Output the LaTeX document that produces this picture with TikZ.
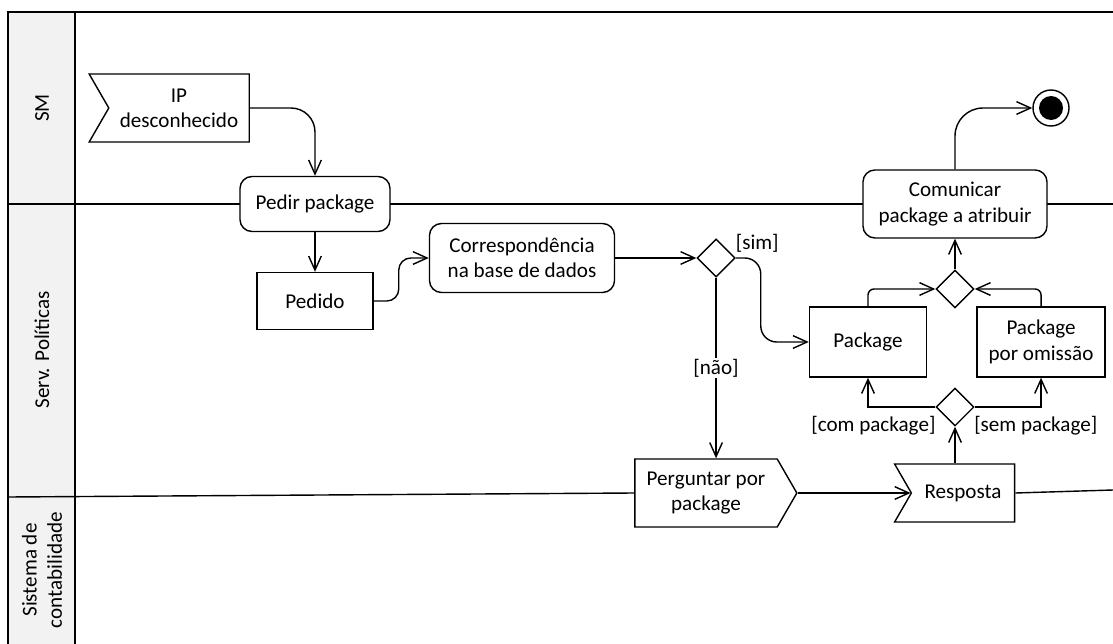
\documentclass[tikz,border=0pt]{standalone}
\usepackage{fontspec}
\setmainfont{Carlito}
\usetikzlibrary{shapes.geometric,shapes.symbols,arrows.meta}

\begin{document}
\begin{tikzpicture}[x=0.025cm, y=0.025cm, node distance=2cm, auto, line width=1pt, font=\fontsize{15}{18}\selectfont]
  % Define block styles
  \tikzstyle{action} = [rectangle, draw, fill=white, rounded corners=0.3cm, align=center]
  \tikzstyle{object} = [rectangle, draw, fill=white, align=center]
  \tikzstyle{decision} = [diamond, draw, fill=white, minimum width=0.95cm, minimum height=0.95cm, inner sep=0pt]
  \tikzstyle{receive} = [signal, signal to=nowhere, signal from=west, signal pointer angle=120, draw, fill=white, align=center]
  \tikzstyle{send} = [signal, signal to=east, signal from=nowhere, signal pointer angle=120, draw, fill=white, align=center]
  \tikzstyle{lane} = [rotate=90, align=center]
  \tikzstyle{line} = [draw, -{Straight Barb[length=10pt, width=9pt]}]

  \useasboundingbox (0,0) rectangle (1113,-644);

  % Swimlanes
  \fill [black!5] (8,-12) rectangle (75,-644);
  \draw (8,-644) -- (8,-12) -- (1113,-12);
  \draw (75,-12) -- (75,-644);
  \draw (8,-204) -- (1113,-204);
  \node [lane] (sm) at (42,-108) {SM};
  \node [lane] (serv) at (42,-350) {Serv. Políticas};
  \node [lane] (contab) at (42,-570) {Sistema de\\contabilidade};

  % Place blocks
  \node [receive, minimum width=4cm, minimum height=1.7cm] (ip) at (179,-108) {IP\\desconhecido};
  \node [action, minimum width=3.75cm, minimum height=1.375cm] (pedir) at (315,-204) {Pedir package};
  \node [object, below of=pedir, node distance=2.425cm, minimum width=2.9cm, minimum height=1.425cm] (pedido) {Pedido};
  \node [action, minimum width=4.625cm, minimum height=1.725cm] (corresp) at (522,-258) {Correspondência\\na base de dados};
  \node [decision, right of=corresp, node distance=4.85cm] (existe) {};
  \node [object, minimum width=2.925cm, minimum height=1.75cm] (package) at (868,-342) {Package};
  \node [object, right of=package, node distance=4.325cm, minimum width=3.2cm, minimum height=1.75cm] (omissao) {Package\\por omissão};
  \node [decision] (juntar) at (955,-289) {};
  \node [action, above of=juntar, node distance=2.125cm, minimum width=4.6cm, minimum height=1.7cm] (comunicar) {Comunicar\\package a atribuir};
  \node [decision, below of=juntar, node distance=2.95cm] (escolha) {};
  \node [send, minimum width=4.05cm, minimum height=1.7cm] (perguntar) at (706,-493) {Perguntar por\\package};
  \node [receive, minimum width=3cm, minimum height=1.45cm] (resposta) at (963,-493) {Resposta};
  \node [circle, draw, fill=white, minimum size=0.9cm, inner sep=0pt,
    path picture={\fill [black] (path picture bounding box.center) circle (0.3cm);}] (fim) at (1051,-108) {};

  \draw (8,-497) -- (perguntar.west);
  \draw (resposta.east) -- (1113,-490);

  % Draw lines
  \path [line, rounded corners=0.6cm] (ip.east) -| (pedir.north);
  \path [line] (pedir) -- (pedido);
  \path [line, rounded corners=0.3cm] (pedido.east) -| ([xshift=-0.75cm]corresp.west) -- (corresp.west);
  \path [line] (corresp) -- (existe);
  \path [line, rounded corners=0.4cm] (existe.east) -| node [pos=0.43, above] {[sim]} ([xshift=-1.2cm]package.west) -- (package.west);
  \path [line] (existe.south) -- node [fill=white, inner sep=1pt, auto=false] {[não]} (existe.south |- perguntar.north);
  \path [line] (perguntar.east) -- (resposta.west);
  \path [line] (escolha.south |- resposta.north) -- (escolha.south);
  \path [line] (escolha.west) -| node [pos=0.46, below, yshift=-3pt] {[com package]} (package.south);
  \path [line] (escolha.east) -| node [pos=0.46, below, yshift=-3pt] {[sem package]} (omissao.south);
  \path [line, rounded corners=0.15cm] (package.north) |- (juntar.west);
  \path [line, rounded corners=0.15cm] (omissao.north) |- (juntar.east);
  \path [line] (juntar) -- (comunicar);
  \path [line, rounded corners=0.7cm] (comunicar.north) |- (fim.west);
\end{tikzpicture}
\end{document}
